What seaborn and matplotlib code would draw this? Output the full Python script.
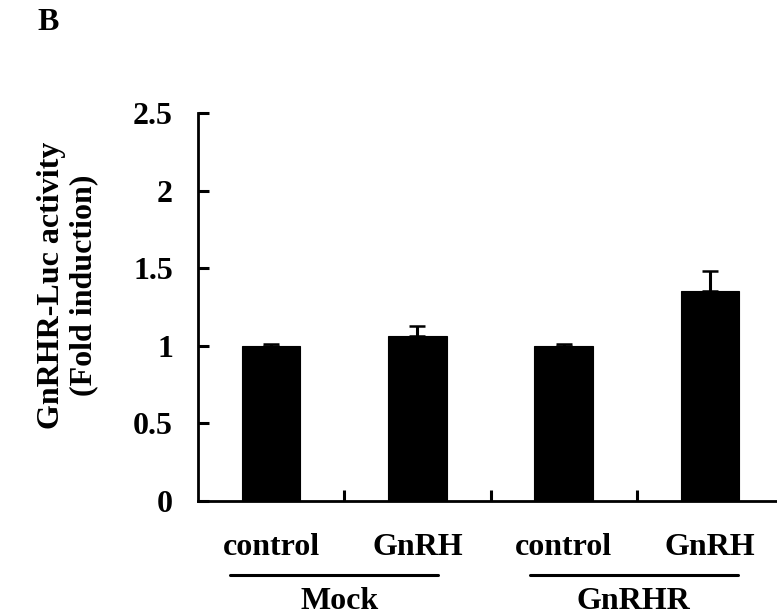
import matplotlib
matplotlib.use("Agg")
import matplotlib.pyplot as plt
import seaborn as sns
import pandas as pd
import numpy as np

# ---- data ----
categories = ["control", "GnRH", "control ", "GnRH "]
tick_labels = ["control", "GnRH", "control", "GnRH"]
values = [1.00, 1.06, 1.00, 1.35]
errors = [0.012, 0.07, 0.01, 0.13]
groups = ["Mock", "GnRHR"]
y_ticks = [0, 0.5, 1, 1.5, 2, 2.5]
y_tick_labels = ["0", "0.5", "1", "1.5", "2", "2.5"]
y_label = "GnRHR-Luc activity\n(Fold induction)"
panel = "B"

sns.set_theme(style="white")
plt.rcParams["font.family"] = ["Liberation Serif", "DejaVu Serif"]
plt.rcParams["font.weight"] = "bold"
plt.rcParams["text.color"] = "black"
plt.rcParams["xtick.color"] = "black"
plt.rcParams["ytick.color"] = "black"
plt.rcParams["axes.labelcolor"] = "black"

FS = 23
fig = plt.figure(figsize=(7.77, 6.15), dpi=100)
ax = fig.add_axes([198 / 777, (615 - 501) / 615, 585 / 777, 388 / 615])

df = pd.DataFrame({"cat": categories, "val": values})
sns.barplot(data=df, x="cat", y="val", order=categories, color="black",
            edgecolor="black", linewidth=0.8, width=0.4, saturation=1, ax=ax,
            errorbar=None)
x = np.arange(len(values))
ax.errorbar(x, values, yerr=[np.zeros(len(errors)), errors], fmt="none",
            ecolor="black", elinewidth=2.2, capsize=6, capthick=1.8)

ax.set_xlim(-0.5, 3.5)
ax.set_ylim(0, 2.5)
ax.set_yticks(y_ticks)
ax.set_yticklabels(y_tick_labels, fontsize=FS, fontweight="bold")
ax.set_xticks(x)
ax.set_xticklabels(tick_labels, fontsize=FS, fontweight="bold")
ax.set_xticks([0.5, 1.5, 2.5], minor=True)
ax.tick_params(axis="x", which="major", length=0, pad=23)
ax.tick_params(axis="x", which="minor", direction="in", length=8, width=2.2,
               color="black", bottom=True)
ax.tick_params(axis="y", direction="in", length=8, width=2.2, color="black",
               pad=18, left=True)
for s in ["top", "right"]:
    ax.spines[s].set_visible(False)
for s in ["left", "bottom"]:
    ax.spines[s].set_linewidth(2.0)
    ax.spines[s].set_color("black")
ax.set_xlabel("")
ax.set_ylabel(y_label, fontsize=FS, fontweight="bold", linespacing=1.15)
ax.yaxis.set_label_coords(-0.171, 0.557)

# group underlines and labels
spans = [(-0.28, 1.14), (1.77, 3.19)]
label_x = [0.47, 2.48]
for (x0, x1), lx, g in zip(spans, label_x, groups):
    ax.plot([x0, x1], [-0.19, -0.19], transform=ax.get_xaxis_transform(),
            color="black", lw=2.2, clip_on=False)
    ax.text(lx, -0.26, g, transform=ax.get_xaxis_transform(),
            ha="center", va="center", fontsize=FS, fontweight="bold")

fig.text(48 / 777, 1 - 22 / 615, panel, ha="center", va="center",
         fontsize=FS, fontweight="bold")

fig.savefig("out.png", dpi=100)
